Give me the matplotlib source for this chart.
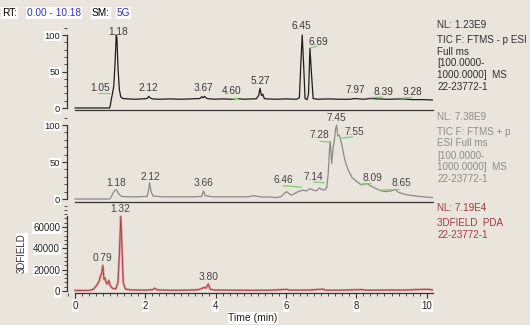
import matplotlib.pyplot as plt
import numpy as np
from matplotlib.ticker import MultipleLocator

plt.rcParams['font.family'] = ['Liberation Sans', 'DejaVu Sans']

# --- data ------------------------------------------------------------------
# TIC, negative ESI (relative abundance %)
neg_time = [0.00, 0.98, 1.00, 1.03, 1.06, 1.10, 1.14, 1.17, 1.19, 1.22,
            1.26, 1.30, 1.36, 1.50, 1.70, 1.90, 2.05, 2.09, 2.13, 2.20,
            2.40, 2.70, 3.00, 3.30, 3.55, 3.60, 3.64, 3.68, 3.75, 3.95,
            4.20, 4.45, 4.60, 4.80, 5.00, 5.15, 5.22, 5.26, 5.30, 5.34,
            5.38, 5.45, 5.70, 6.00, 6.30, 6.38, 6.42, 6.46, 6.50, 6.54,
            6.60, 6.64, 6.68, 6.72, 6.77, 6.90, 7.20, 7.50, 7.80, 7.97,
            8.20, 8.39, 8.60, 8.90, 9.28, 9.60, 9.90, 10.18]
neg_abund = [0, 0, 3, 12, 19, 30, 65, 100, 96, 55,
             25, 15, 13, 12.5, 12, 12.5, 13, 16, 14, 12.5,
             12, 12.5, 12, 12.5, 13, 15.5, 14, 16, 13, 12,
             12.5, 12, 13, 12, 12.5, 12.5, 17, 27, 17, 19,
             13, 12.5, 12, 12.5, 12, 14, 60, 100, 60, 13,
             11.5, 20, 82, 50, 13, 12, 12.5, 12, 12, 13,
             12, 13, 12.5, 12, 12.5, 11.5, 11.5, 11]

# TIC, positive ESI (relative abundance %)
pos_time = [0.00, 0.98, 1.02, 1.08, 1.13, 1.18, 1.24, 1.32, 1.50, 1.80,
            2.05, 2.09, 2.12, 2.16, 2.22, 2.50, 3.00, 3.40, 3.60, 3.65,
            3.70, 3.90, 4.40, 4.90, 5.10, 5.20, 5.35, 5.50, 5.70, 5.85,
            6.01, 6.15, 6.34, 6.48, 6.58, 6.68, 6.78, 6.87, 6.95, 7.01,
            7.10, 7.16, 7.20, 7.24, 7.26, 7.30, 7.34, 7.37, 7.41, 7.44,
            7.47, 7.52, 7.58, 7.64, 7.70, 7.78, 7.88, 8.00, 8.14, 8.30,
            8.40, 8.52, 8.70, 8.85, 9.00, 9.10, 9.20, 9.40, 9.70, 10.00,
            10.18]
pos_abund = [0, 0, 2, 8, 12, 12.5, 7, 3.5, 3, 3,
             3.5, 12, 22, 10, 4, 3, 3, 3, 3.5, 11,
             4.5, 3, 3, 3, 4.5, 3.5, 2.5, 3, 2, 3,
             10, 5, 10, 12, 11, 14, 12, 11, 15, 13,
             12, 16, 35, 70, 77, 48, 70, 78, 95, 100,
             85, 86, 75, 60, 48, 38, 29, 24, 19, 21,
             18, 15, 11, 10, 11, 13, 9, 6, 4, 2.5,
             2]

# PDA 3DFIELD (absorbance counts)
pda_time = [0.00, 0.40, 0.52, 0.62, 0.68, 0.72, 0.76, 0.79, 0.82, 0.85,
            0.88, 0.92, 0.96, 1.00, 1.06, 1.16, 1.22, 1.26, 1.30, 1.33,
            1.37, 1.43, 1.60, 2.00, 2.20, 2.26, 2.34, 2.80, 3.20, 3.50,
            3.62, 3.68, 3.72, 3.79, 3.84, 3.95, 4.50, 5.00, 5.60, 6.02,
            6.10, 6.70, 7.05, 7.12, 7.60, 8.15, 8.25, 9.00, 9.40, 9.85,
            10.05, 10.18]
pda_counts = [500, 600, 1500, 5500, 9000, 14000, 17000, 24000, 11000, 12500,
              8000, 6500, 10000, 5000, 2500, 2000, 8000, 35000, 70000, 45000,
              8000, 1800, 1000, 800, 1200, 2500, 1000, 700, 800, 1200,
              2500, 3500, 2500, 6600, 1800, 900, 800, 700, 800, 1500,
              800, 900, 1800, 800, 800, 1300, 800, 900, 900, 1500,
              1600, 900]

# peak labels: (text, label x, label y)
neg_labels = [('1.18', 1.22, 104), ('1.05', 0.71, 27), ('2.12', 2.08, 27),
              ('3.67', 3.64, 27), ('4.60', 4.45, 23), ('5.27', 5.26, 37),
              ('6.45', 6.44, 112), ('6.69', 6.91, 90), ('7.97', 7.98, 24),
              ('8.39', 8.78, 22), ('9.28', 9.59, 22)]
pos_labels = [('1.18', 1.18, 22), ('2.12', 2.13, 30), ('3.66', 3.65, 22),
              ('6.46', 5.91, 26), ('7.14', 6.77, 30), ('7.28', 6.96, 86),
              ('7.45', 7.43, 110), ('7.55', 7.95, 90), ('8.09', 8.46, 28),
              ('8.65', 9.28, 21)]
pda_labels = [('1.32', 1.28, 76800), ('0.79', 0.78, 30600), ('3.80', 3.79, 13400)]

# green peak-integration marks: (t0, y0, t1, y1)
neg_marks = [(0.65, 21, 1.0, 21), (4.46, 14, 4.63, 14), (6.68, 82, 6.90, 85),
             (8.38, 14, 8.75, 15), (9.28, 13.5, 9.60, 14.5)]
pos_marks = [(5.91, 18, 6.44, 16), (6.77, 23, 7.10, 22), (6.96, 78, 7.29, 77),
             (7.53, 82, 7.90, 84), (8.10, 20, 8.43, 21), (8.66, 12, 9.23, 13)]

neg_info = ['NL: 1.23E9', 'TIC F: FTMS - p ESI', 'Full ms', '[100.0000-',
            '1000.0000]  MS', '22-23772-1']
pos_info = ['NL: 7.38E9', 'TIC F: FTMS + p', 'ESI Full ms', '[100.0000-',
            '1000.0000]  MS', '22-23772-1']
pda_info = ['NL: 7.19E4', '3DFIELD  PDA', '22-23772-1']

BG = '#e9e5dd'
AXC = '#333333'
W, H = 530, 325
WHITE = dict(facecolor='white', edgecolor='none', pad=0.4)

fig = plt.figure(figsize=(5.3, 3.25), dpi=100, facecolor=BG)


def px_axes(top, bottom):
    # axes rectangle from pixel rows, shared x extent
    return fig.add_axes([67 / W, 1 - bottom / H, (433 - 67) / W, (bottom - top) / H])


def style(ax, ylim, yticks, yminor, ybound, tick_size):
    ax.patch.set_visible(False)
    ax.set_xlim(-0.23, 10.18)
    ax.set_ylim(*ylim)
    for s in ('top', 'right'):
        ax.spines[s].set_visible(False)
    ax.spines['left'].set_bounds(0, ybound)
    ax.spines['bottom'].set_bounds(0, 10.18)
    for s in ('left', 'bottom'):
        ax.spines[s].set_color(AXC)
        ax.spines[s].set_linewidth(0.9)
    ax.set_yticks(yticks)
    ax.yaxis.set_minor_locator(MultipleLocator(yminor))
    ax.tick_params(axis='y', which='major', length=3.5, width=0.8, color=AXC,
                   labelsize=tick_size, pad=1.5, labelcolor='#222222')
    ax.tick_params(axis='y', which='minor', length=2, width=0.6, color=AXC)
    for lbl in ax.get_yticklabels():
        lbl.set_bbox(WHITE)


def info(lines, ys, color):
    for txt, y in zip(lines, ys):
        fig.text(437 / W, 1 - y / H, txt, color=color, fontsize=7.1,
                 ha='left', va='center')


def peak_text(ax, labels, color):
    for txt, x, y in labels:
        ax.text(x, y, txt, color=color, fontsize=7.3, ha='center', va='center',
                clip_on=False)


def marks(ax, segs):
    for t0, y0, t1, y1 in segs:
        ax.plot([t0, t1], [y0, y1], color='#7ccf6a', lw=0.9, solid_capstyle='butt')


# --- panel 1: TIC negative ---
ax1 = px_axes(21.9, 110.2)
style(ax1, (-3, 118), [0, 50, 100], 10, 100, 6.8)
ax1.set_xticks([])
ax1.plot(neg_time, neg_abund, color='#1e1e1e', lw=0.9)
marks(ax1, neg_marks)
peak_text(ax1, neg_labels, '#3a3a3a')
info(neg_info, [25, 40, 51.7, 63.3, 75.5, 87.3], '#2e2e2e')

# --- panel 2: TIC positive ---
ax2 = px_axes(111.7, 201.7)
style(ax2, (-3.6, 118), [0, 50, 100], 10, 100, 6.8)
ax2.set_xticks([])
ax2.plot(pos_time, pos_abund, color='#8a8a8a', lw=0.9)
marks(ax2, pos_marks)
peak_text(ax2, pos_labels, '#444444')
info(pos_info, [116.7, 131.7, 143.3, 155.7, 167.3, 179], '#8c8c8c')

# --- panel 3: PDA ---
ax3 = px_axes(205.7, 293.35)
style(ax3, (-2200, 80000), [0, 20000, 40000, 60000], 4000, 70000, 7)
ax3.plot(pda_time, pda_counts, color='#d59292', lw=1.6, solid_joinstyle='round')
ax3.plot(pda_time, pda_counts, color='#b03a40', lw=0.6)
peak_text(ax3, pda_labels, '#444444')
info(pda_info, [208.3, 223.3, 235], '#a23a3e')

ax3.set_xticks(np.arange(0, 11, 2))
ax3.xaxis.set_minor_locator(MultipleLocator(0.2))
ax3.tick_params(axis='x', which='major', length=3.5, width=0.8, color=AXC,
                labelsize=7, pad=2, labelcolor='#222222')
ax3.tick_params(axis='x', which='minor', length=2, width=0.6, color=AXC)
for lbl in ax3.get_xticklabels():
    lbl.set_bbox(WHITE)

fig.text(253 / W, 1 - 318 / H, 'Time (min)', fontsize=7.5, ha='center',
         va='center', color='#222222', bbox=WHITE)
fig.text(22 / W, 1 - 253 / H, '3DFIELD', fontsize=7, rotation=90, ha='center',
         va='center', color='#333333', bbox=WHITE)

# header
hdr = [('RT:', 2, 'black'), ('0.00 - 10.18', 27, '#3232c0'),
       ('SM:', 92, 'black'), ('5G', 117, '#3232c0')]
for txt, x, c in hdr:
    fig.text(x / W, 1 - 13 / H, txt, fontsize=7.3, color=c, ha='left',
             va='center', bbox=WHITE)

fig.savefig('out.png', dpi=100, facecolor=BG)
